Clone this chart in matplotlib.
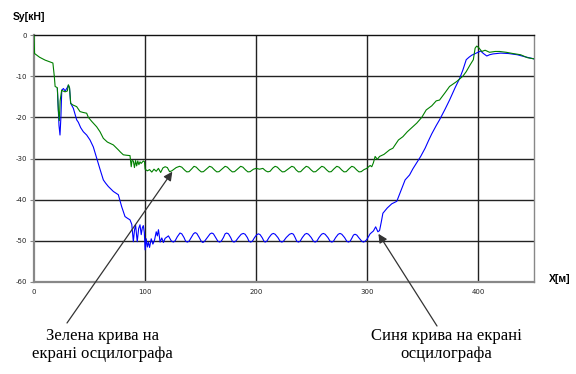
import matplotlib
matplotlib.use("Agg")
import matplotlib.pyplot as plt

# ── data ────────────────────────────────────────────────────────────────────
green_x = [0, 0.5, 5, 10, 14, 17, 18.3, 19, 21, 21.9, 22.8, 23.5, 24.9, 26, 28, 30,
           30.9, 32, 33, 35, 38.4, 41.4, 44, 47.4, 48.9, 52, 56.4, 59.4, 62.4, 66,
           71.4, 75.9, 78, 80.4, 83, 86.4, 87.5, 88.2, 89.4, 90.4, 91.4, 92.4, 93.4,
           94.4, 95.4, 96.4, 98.4, 99.5,
           100, 102, 104, 106, 108, 110, 112, 114, 116, 118, 120, 122, 124, 126, 128,
           131, 133, 135.5, 137.5, 139.5, 142,
           144, 146, 148.5, 150.5, 152.5, 155.5,
           158, 160, 162.5, 164.5, 166.5, 169.5,
           172, 174, 176.5, 178.5, 180.5, 183.5,
           186, 188, 190.5, 192.5, 194.5, 197.5,
           200, 203, 206, 208.5, 210.5, 212.5, 215,
           217, 219, 221.5, 223.5, 225.5, 229,
           232, 234, 236, 238, 240, 242.5,
           245, 247, 249.5, 251.5, 253.5, 256.5,
           259, 261, 263.5, 265.5, 267.5, 270,
           272.5, 274.5, 277, 279, 281, 283.5,
           286, 288, 290.5, 292.5, 294.5, 297, 299.5,
           302.5, 304, 305.5, 307, 309, 311, 315, 320, 323, 328, 332, 336, 340, 344.5,
           349, 353, 358, 362, 365, 370, 374, 380.4, 386, 389, 392.4, 395.4, 397,
           398.4, 400, 403, 406, 410, 415, 419, 425, 431, 438, 444, 450]
green_y = [0, -4.5, -5.4, -6.1, -6.5, -6.8, -10.1, -12.5, -12.8, -18.2, -20.8, -16,
           -13.4, -13.6, -13.8, -13.6, -12.1, -12.8, -16.6, -17, -17.4, -18.6, -18.8,
           -19, -20, -21, -22.3, -23.5, -25.1, -26, -26.7, -27.9, -28.5, -29.1, -29.2,
           -29.3, -32, -30.5, -30.6, -32.2, -30.5, -31.8, -30.6, -31.5, -30.8, -31.2,
           -30.6, -30.8,
           -32.6, -33.0, -32.7, -33.3, -32.6, -33.1, -32.4, -33.4, -32.3, -32.0, -32.2,
           -33.2, -33.0, -32.6, -32.2,
           -31.9, -32.1, -32.8, -33.25, -33.2, -32.5,
           -31.9, -32.1, -32.8, -33.25, -33.2, -32.5,
           -31.9, -32.1, -32.8, -33.25, -33.2, -32.5,
           -31.9, -32.1, -32.8, -33.25, -33.2, -32.5,
           -31.9, -32.1, -32.8, -33.25, -33.2, -32.6,
           -32.4, -32.6, -32.4, -33.0, -33.25, -33.1, -32.3,
           -31.9, -32.1, -32.8, -33.25, -33.2, -32.5,
           -31.9, -32.1, -32.8, -33.25, -33.2, -32.5,
           -31.9, -32.1, -32.8, -33.25, -33.2, -32.5,
           -31.9, -32.1, -32.8, -33.25, -33.2, -32.5,
           -31.9, -32.1, -32.8, -33.25, -33.2, -32.5,
           -31.9, -32.1, -32.8, -33.25, -33.2, -32.7, -32.4,
           -31.7, -32.0, -31.0, -29.5, -30.2, -29.5, -29.0, -27.9, -27.5, -25.5, -24.7,
           -23.5, -22.5, -21.4, -20.0, -18.2, -17.2, -16.0, -15.8, -14.0, -12.5, -11.3,
           -10.0, -8.9, -7.3, -6.0, -3.2, -2.7, -3.0, -4.0, -3.7, -4.2, -4.0, -4.0,
           -4.2, -4.5, -4.8, -5.5, -5.8]

blue_x = [21, 21.9, 22.5, 23.4, 24.2, 25, 26.5, 28, 29.9, 31, 32, 33, 35.4, 38.4, 39.9,
          42, 44.4, 47.4, 50.4, 53.4, 56.4, 59.4, 62.4, 64.5, 66.9, 71.4, 75.9, 78.9,
          81.9, 84, 86.4, 88, 89.4, 90.4, 91.4, 92.9, 94.2, 95.4, 96.5, 97.5, 98.4, 99.3,
          100, 101, 102, 103, 104, 105.5, 107, 108.5, 110, 111, 112, 113.5, 115, 116.5,
          118, 121, 123.5, 125.4, 127, 129,
          131.4, 133, 135, 136.5, 138, 139.5, 141.5, 143.5,
          145, 146.5, 148.5, 150.5, 152, 153.5, 156, 158.5,
          160, 161.5, 163.5, 165.5, 167, 168.5, 170.5, 172,
          173.4, 175, 177, 178.5, 180, 181.5, 184, 186.5,
          188.4, 190, 192, 193.5, 195, 196.5, 198.5, 200.5,
          202, 203.5, 205.5, 207, 208, 209.5, 211.5, 213.8,
          215.4, 217, 219.5, 221.5, 223, 224.5, 227, 230,
          232, 233.5, 235, 236.5, 238, 239.5, 241.5, 243.8,
          245.4, 247, 249.5, 251.5, 253, 254.5, 256.5, 258.8,
          260.4, 262, 264.5, 266.5, 268, 269.5, 271.5, 273.8,
          275.4, 277, 279.5, 281.5, 283, 284.5, 286, 287.5,
          288.9, 290.5, 292.5, 295, 296.5, 298, 299.5,
          302.5, 305.5, 307.5, 309.5, 311, 312.5, 314, 318, 322, 326.5, 330, 334, 338,
          341, 344.5, 348, 352, 355, 358, 362, 365, 370, 374, 379, 383, 386, 389,
          391.5, 394, 398, 402, 404.5, 407.5, 410, 413, 420, 427, 435, 442, 450]
blue_y = [-13, -18.2, -22, -24.3, -20, -13.4, -13.0, -13.6, -12.8, -12.2, -13, -16.6,
          -17.8, -20.6, -21.2, -22.5, -23.5, -24.3, -25.5, -27.2, -29.9, -32.6, -35.2,
          -36, -36.8, -38, -38.8, -41.7, -44.1, -44.5, -44.9, -46, -50.2, -47.5, -46.1,
          -50.2, -47, -46.1, -48.5, -46.8, -46.3, -48,
          -52.2, -49.5, -51.5, -50.3, -51.6, -49.5, -50.8, -49.8, -47.8, -48.8, -47.3,
          -50.3, -49.3, -50.4, -49.4, -48.8, -50.0, -50.3, -50.0, -49.0,
          -48.1, -48.3, -49.2, -50.1, -50.3, -50.1, -49.2, -48.3,
          -48.0, -48.2, -49.1, -50.1, -50.4, -50.1, -49.2, -48.3,
          -48.1, -48.3, -49.2, -50.1, -50.3, -50.1, -49.2, -48.3,
          -48.1, -48.3, -49.2, -50.1, -50.3, -50.1, -49.2, -48.4,
          -48.2, -48.4, -49.2, -50.1, -50.3, -50.1, -49.2, -48.5,
          -48.3, -48.5, -49.3, -50.1, -50.3, -50.1, -49.2, -48.4,
          -48.2, -48.4, -49.2, -50.1, -50.3, -50.1, -49.2, -48.4,
          -48.2, -48.4, -49.2, -50.1, -50.3, -50.1, -49.2, -48.4,
          -48.2, -48.4, -49.2, -50.1, -50.3, -50.1, -49.2, -48.4,
          -48.2, -48.4, -49.2, -50.1, -50.3, -50.1, -49.2, -48.4,
          -48.2, -48.4, -49.2, -50.1, -50.3, -50.1, -49.4, -48.6,
          -48.4, -48.6, -49.3, -50.1, -50.3, -50.1, -49.7,
          -48.3, -47.6, -46.6, -47.8, -47.5, -45.5, -43.3, -42, -41, -40.4, -38, -35.2,
          -34, -32.5, -31, -29.5, -27.5, -25.7, -24, -22, -20.6, -18, -15.8, -12.8,
          -10.6, -8.5, -6.0, -5.4, -4.9, -4.4, -3.9, -4.5, -5.1, -4.8, -4.6, -4.4,
          -4.5, -4.8, -5.3, -5.8]

x_ticks = [0, 100, 200, 300, 400]
y_ticks = [0, -10, -20, -30, -40, -50, -60]

green_label = "Зелена крива на\nекрані осцилографа"
blue_label = "Синя крива на екрані\nосцилографа"

# ── plot ─────────────────────────────────────────────────────────────────────
W, H = 576, 374
fig = plt.figure(figsize=(W / 100, H / 100), dpi=100)
ax = fig.add_axes([34 / W, 1 - 282 / H, 500 / W, 247 / H])

for x in x_ticks[1:]:
    ax.axvline(x, color="#222222", lw=1.0, zorder=1)
for y in y_ticks[1:-1]:
    ax.axhline(y, color="#222222", lw=1.0, zorder=1)

ax.plot(blue_x, blue_y, color="#0000ff", lw=0.8, zorder=3)
ax.plot(green_x, green_y, color="#008000", lw=0.8, zorder=4)

ax.set_xlim(0, 450)
ax.set_ylim(-60, 0)
ax.set_xticks(x_ticks)
ax.set_yticks(y_ticks)
ax.set_xticklabels([str(v) for v in x_ticks])
ax.set_yticklabels([str(v) for v in y_ticks])
ax.tick_params(axis="both", labelsize=5, colors="#222222", length=0, pad=5)
ax.tick_params(axis="y", length=3, color="#888888", pad=2)

for side in ["left", "bottom", "right"]:
    ax.spines[side].set_color("#888888")
ax.spines["left"].set_linewidth(1.6)
ax.spines["bottom"].set_linewidth(1.6)
ax.spines["right"].set_linewidth(1.0)
ax.spines["top"].set_color("#111111")
ax.spines["top"].set_linewidth(1.0)

fig.text(13 / W, 1 - 17 / H, "Sy[кН]", fontsize=7.5, fontweight="bold",
         family="Liberation Sans", ha="left", va="center")
fig.text(549 / W, 1 - 279 / H, "X[м]", fontsize=7.5, fontweight="bold",
         family="Liberation Sans", ha="left", va="center")

arrow = dict(arrowstyle="-|>", color="#333333", lw=0.9, mutation_scale=13,
             shrinkA=0, shrinkB=0)
ax.annotate("", xy=(124.5, -33.2), xycoords="data",
            xytext=(67, H - 323), textcoords="figure pixels", arrowprops=arrow)
ax.annotate("", xy=(310, -48.3), xycoords="data",
            xytext=(437, H - 326), textcoords="figure pixels", arrowprops=arrow)

fig.text(102 / W, 1 - 345 / H, green_label, fontsize=12, family="Liberation Serif",
         ha="center", va="center", linespacing=1.15)
fig.text(446 / W, 1 - 345 / H, blue_label, fontsize=12, family="Liberation Serif",
         ha="center", va="center", linespacing=1.15)

fig.savefig("out.png", dpi=100)
